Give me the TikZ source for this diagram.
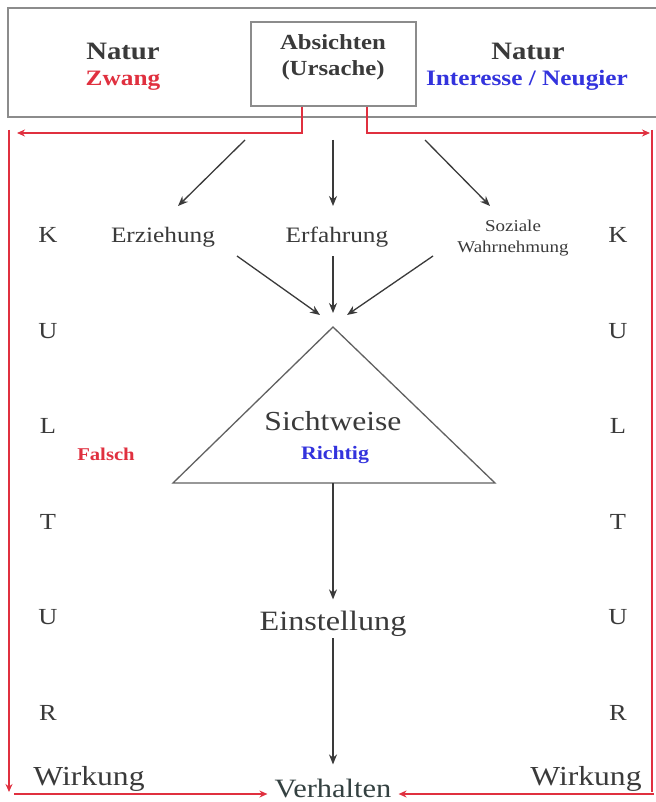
\documentclass[tikz,border=0pt]{standalone}
\usepackage{fontspec}
\setmainfont[FakeStretch=1.15]{Liberation Serif}
\usetikzlibrary{arrows.meta}
\definecolor{txt}{HTML}{3A3A3A}
\definecolor{redc}{HTML}{E0303F}
\definecolor{bluec}{HTML}{3333DD}
\definecolor{boxc}{HTML}{8C8C8C}
\begin{document}
\begin{tikzpicture}[x=1pt,y=-1pt,
  lbl/.style={inner sep=0pt, anchor=base, text=txt, font=\fontsize{#1}{#1}\selectfont},
  blbl/.style={inner sep=0pt, anchor=base, text=txt, font=\bfseries\fontsize{#1}{#1}\selectfont},
  blk/.style={draw=txt, line width=1.3pt, -{Stealth[length=10pt,width=8pt]}},
  rd/.style={draw=redc, line width=1.5pt},
  rdarrow/.style={draw=redc, line width=1.5pt, -{Stealth[length=8pt,width=7pt]}},
  tri/.style={draw=txt!80, line width=1.3pt}]
\useasboundingbox (0,0) rectangle (655,802);
\fill[white] (0,0) rectangle (655,802);

% top frame
\draw[boxc, line width=1.6pt] (8,8) rectangle (668,117);
\node[draw=boxc, line width=1.3pt, minimum width=165pt, minimum height=84pt, inner sep=0pt] (absbox) at (333.5,64) {};
\node[blbl=21.5] (abs1) at (333,50) {Absichten};
\node[blbl=21.5] (abs2) at (333,76) {(Ursache)};
\node[blbl=25] (natL) at (123,60) {Natur};
\node[blbl=22, text=redc] (zwang) at (123,86) {Zwang};
\node[blbl=25] (natR) at (528,60) {Natur};
\node[blbl=22, text=bluec] (intr) at (527,86) {Interesse / Neugier};

% red feedback lines
\coordinate (rl) at (302,133);
\coordinate (rr) at (367,133);
\coordinate (rlend) at (17,133);
\coordinate (rrend) at (650,133);
\draw[rdarrow] (absbox.south -| rl) -- (rl) -- (rlend);
\draw[rdarrow] (absbox.south -| rr) -- (rr) -- (rrend);
\coordinate (vlt) at (9,130);
\coordinate (vlb) at (9,792);
\coordinate (vrt) at (652,130);
\coordinate (vrb) at (652,792);
\draw[rdarrow] (vlt) -- (vlb);
\draw[rd] (vrt) -- (vrb);

% KULTUR
\foreach \ch/\yy/\nm in {K/242/a,U/338/b,L/433/c,T/529/d,U/624/e,R/720/f}{
  \node[lbl=23] (kl\nm) at (48,\yy) {\ch};
  \node[lbl=23] (kr\nm) at (618,\yy) {\ch};
}

% middle labels
\node[lbl=22] (erz) at (163,243) {Erziehung};
\node[lbl=22] (erf) at (337,243) {Erfahrung};
\node[lbl=16.5] (soz) at (513,232) {Soziale};
\node[lbl=16.5] (wahr) at (513,252) {Wahrnehmung};

% arrows from top
\coordinate (s1) at (245,140);
\coordinate (s2) at (333,140);
\coordinate (s3) at (425,140);
\coordinate (t1) at (178,206);
\coordinate (t2) at (333,206);
\coordinate (t3) at (490,206);
\draw[blk] (s1) -- (t1);
\draw[blk] (s2) -- (t2);
\draw[blk] (s3) -- (t3);

% arrows to triangle
\coordinate (u1) at (237,256);
\coordinate (u2) at (333,256);
\coordinate (u3) at (433,256);
\coordinate (v1) at (320,315);
\coordinate (v2) at (333,313);
\coordinate (v3) at (347,315);
\draw[blk] (u1) -- (v1);
\draw[blk] (u2) -- (v2);
\draw[blk] (u3) -- (v3);

% triangle
\coordinate (apex) at (333,327);
\coordinate (tbl) at (173,483);
\coordinate (tbr) at (495,483);
\draw[tri, line join=miter] (apex) -- (tbr) -- (tbl) -- cycle;
\node[lbl=27.5] (sicht) at (333,430) {Sichtweise};
\node[blbl=19, text=bluec] (richtig) at (335,459) {Richtig};
\node[blbl=18, text=redc] (falsch) at (106,460) {Falsch};

% lower chain
\node[lbl=28] (einst) at (333,630) {Einstellung};
\node[lbl=26.5, text=txt!90!teal] (verh) at (333,797) {Verhalten};
\node[lbl=27.5] (wirkL) at (89,785) {Wirkung};
\node[lbl=27.5] (wirkR) at (586,785) {Wirkung};

\coordinate (e1) at (333,638);
\draw[blk, shorten >=11pt] (apex |- tbl) -- (einst.north);
\draw[blk, shorten >=14pt] (e1) -- (e1 |- verh.north);

% bottom red arrows
\coordinate (bl) at (14,794);
\coordinate (br) at (654,794);
\draw[rdarrow, shorten >=7pt] (bl) -- (bl -| verh.west);
\draw[rdarrow, shorten >=7pt] (br) -- (br -| verh.east);
\end{tikzpicture}
\end{document}
